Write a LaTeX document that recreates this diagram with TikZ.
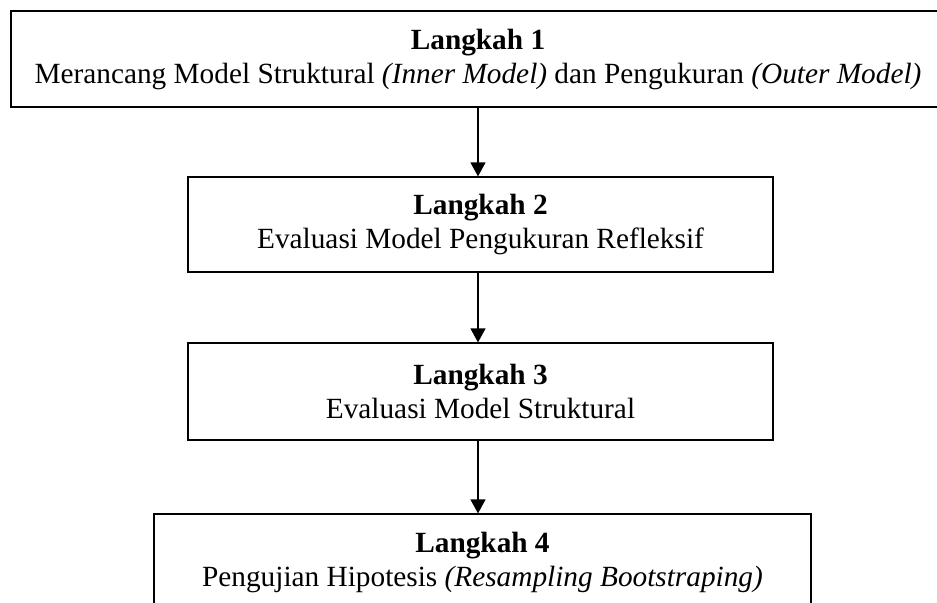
\documentclass[tikz,border=0pt]{standalone}
\usepackage{fontspec}
\setmainfont{Liberation Serif}
\usetikzlibrary{arrows.meta}
\begin{document}
\begin{tikzpicture}[x=0.5pt,y=-0.5pt,
  stepbox/.style={draw=black, line width=0.6pt, rectangle, align=center, inner sep=0pt,
    font=\fontsize{14.65}{17}\selectfont},
  arr/.style={-{Triangle[width=7.5pt,length=7pt]}, line width=0.6pt}]
\useasboundingbox (0,0) rectangle (937,602);
\node[stepbox, minimum width=467pt, minimum height=48pt] (b1) at (478,59)
  {\textbf{Langkah 1}\\Merancang Model Struktural \textit{(Inner Model)} dan Pengukuran \textit{(Outer Model)}};
\node[stepbox, minimum width=292.5pt, minimum height=47.5pt] (b2) at (480.5,224.5)
  {\textbf{Langkah 2}\\Evaluasi Model Pengukuran Refleksif};
\node[stepbox, minimum width=292.5pt, minimum height=48.5pt] (b3) at (480.5,391.5)
  {\textbf{Langkah 3}\\Evaluasi Model Struktural};
\node[stepbox, minimum width=328.5pt, minimum height=48pt] (b4) at (482.5,562)
  {\textbf{Langkah 4}\\Pengujian Hipotesis \textit{(Resampling Bootstraping)}};
\draw[arr] (b1.south) -- (b2.north -| b1.south);
\draw[arr] (b2.south -| b1.south) -- (b3.north -| b1.south);
\draw[arr] (b3.south -| b1.south) -- (b4.north -| b1.south);
\end{tikzpicture}
\end{document}
